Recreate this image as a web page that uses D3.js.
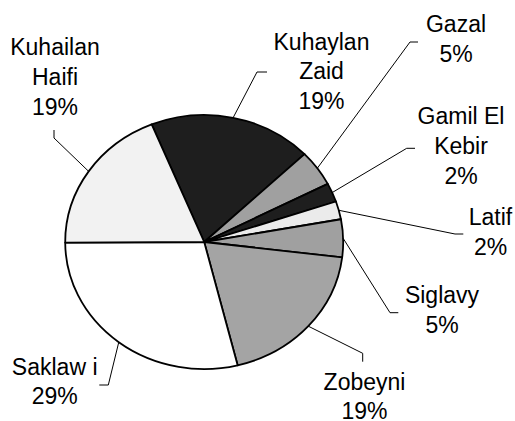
<!DOCTYPE html>
<html lang="en">
<head>
  <meta charset="UTF-8">
  <title>Breeds</title>
  <style>
    body { margin: 0; background: #fff; }
    text { font-family: "Liberation Sans", Arial, sans-serif; font-size: 23px; fill: #000; }
  </style>
</head>
<body>
  <script src="https://d3js.org/d3.v7.min.js"></script>
  <script>

    // slices, clockwise from the top-left one
    const names = [
      ['Kuhaylan', 'Zaid'], ['Gazal'], ['Gamil El', 'Kebir'], ['Latif'],
      ['Siglavy'], ['Zobeyni'], ['Saklaw i'], ['Kuhailan', 'Haifi']
    ]
    const values = [19.0, 4.6, 2.4, 2.3, 4.8, 19.2, 28.8, 18.9]
    const fills = ['#1e1e1e', '#a0a0a0', '#1e1e1e', '#ebebeb', '#a0a0a0', '#a4a4a4', '#ffffff', '#f2f2f2']

    // where each label sits: text centre, first baseline, and the leader's short tick
    const labelAt = [
      { x: 321.5, y: 49.5, tick: [[267, 72], [257, 72]] },
      { x: 456, y: 31.7, tick: [[418, 42], [410, 42]] },
      { x: 461, y: 124, tick: [[415, 148.3], [406.7, 148.3]] },
      { x: 490.5, y: 225, tick: [[463.3, 234], [455, 234]] },
      { x: 442, y: 303.3, tick: [[398.3, 312.7], [390, 312.7]] },
      { x: 364.5, y: 389.5, tick: [[362.7, 361.7], [362.7, 353.3]] },
      { x: 54.7, y: 374.5, tick: [[99.3, 385], [108.3, 385]] },
      { x: 55, y: 55, tick: [[54, 130], [54, 138]] }
    ]

    const width = 515, height = 421
    const cx = 204.2, cy = 242, rx = 139, ry = 127
    const lineGap = 29.8

    const svg = d3.select('body')
      .append('svg')
      .attr('width', width)
      .attr('height', height)

    const total = d3.sum(values)
    const pct = v => Math.round(v / total * 100) + '%'

    const pie = d3.pie()
      .sort(null)
      .value(d => d)
      .startAngle(-22.2 * Math.PI / 180)
      .endAngle(-22.2 * Math.PI / 180 + 2 * Math.PI)

    const arcs = pie(values)

    const arc = d3.arc()
      .innerRadius(0)
      .outerRadius(rx)

    svg.append('g')
      .attr('transform', `translate(${cx}, ${cy}) scale(1, ${ry / rx})`)
      .selectAll('path')
      .data(arcs)
      .join('path')
      .attr('d', arc)
      .attr('fill', (d, i) => fills[i])
      .attr('stroke', '#000')
      .attr('stroke-width', 1.8)
      .attr('stroke-linejoin', 'round')
      .attr('vector-effect', 'non-scaling-stroke')

    // leader lines from the rim at each slice's mid angle
    const rim = d => {
      const a = (d.startAngle + d.endAngle) / 2
      return [cx + rx * Math.sin(a), cy - ry * Math.cos(a)]
    }

    svg.append('g')
      .selectAll('path')
      .data(arcs)
      .join('path')
      .attr('d', (d, i) => d3.line()([labelAt[i].tick[0], labelAt[i].tick[1], rim(d)]))
      .attr('fill', 'none')
      .attr('stroke', '#000')
      .attr('stroke-width', 1)

    const labels = svg.append('g')
      .selectAll('text')
      .data(arcs)
      .join('text')
      .attr('text-anchor', 'middle')

    labels.selectAll('tspan')
      .data((d, i) => names[i].concat([pct(d.value)]).map((t, k) => ({ t, k, i })))
      .join('tspan')
      .attr('x', d => labelAt[d.i].x)
      .attr('y', d => labelAt[d.i].y + d.k * lineGap)
      .text(d => d.t)

  </script>
</body>
</html>
